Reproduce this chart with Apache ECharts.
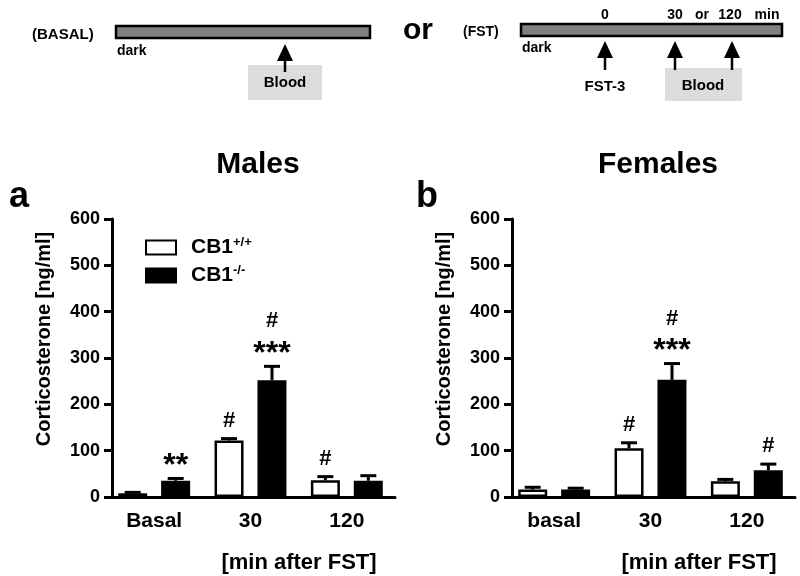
<!DOCTYPE html>
<html>
<head>
<meta charset="utf-8">
<script src="https://cdn.jsdelivr.net/npm/echarts@6/dist/echarts.min.js"></script>
<style>
  html, body { margin: 0; padding: 0; background: #fff; }
  #chart { width: 800px; height: 576px; }
</style>
</head>
<body>
<div id="chart"></div>
<script>
// 数据
var categoriesA = ['Basal', '30', '120'];
var categoriesB = ['basal', '30', '120'];
var yTicks = [0, 100, 200, 300, 400, 500, 600];

var maleWt = [8, 122, 36];
var maleWtErr = [2, 4, 8];
var maleKo = [35, 252, 35];
var maleKoErr = [5, 30, 11];
var femaleWt = [16, 105, 34];
var femaleWtErr = [5, 12, 4];
var femaleKo = [16, 253, 58];
var femaleKoErr = [3, 35, 13];

// 显著性标记
var maleWtHash = ['', '#', '#'];
var maleWtStars = ['', '', ''];
var maleKoHash = ['', '#', ''];
var maleKoStars = ['**', '***', ''];
var femaleWtHash = ['', '#', ''];
var femaleWtStars = ['', '', ''];
var femaleKoHash = ['', '#', '#'];
var femaleKoStars = ['', '***', ''];

var FONT = '"Liberation Sans", Arial, sans-serif';
var myChart = echarts.init(document.getElementById('chart'));

function barSeries(name, idx, vals, fill) {
  return {
    name: name, type: 'bar', xAxisIndex: idx, yAxisIndex: idx,
    data: vals, barWidth: 29, barGap: '48%',
    itemStyle: { color: fill, borderColor: '#000', borderWidth: 2.5 }
  };
}

// 误差线 + 显著性标记
function errSeries(idx, shift, vals, errs, hash, stars) {
  return {
    type: 'custom', xAxisIndex: idx, yAxisIndex: idx, z: 5,
    data: vals.map(function (v, i) { return [i, v, errs[i]]; }),
    encode: { x: 0, y: 1 },
    renderItem: function (params, api) {
      var i = params.dataIndex;
      var base = api.coord([i, api.value(1)]);
      var top = api.coord([i, api.value(1) + api.value(2)]);
      var x = base[0] + shift;
      var kids = [
        { type: 'line', shape: { x1: x, y1: base[1], x2: x, y2: top[1] }, style: { stroke: '#000', lineWidth: 3 } },
        { type: 'line', shape: { x1: x - 8, y1: top[1], x2: x + 8, y2: top[1] }, style: { stroke: '#000', lineWidth: 3 } }
      ];
      var y = top[1];
      if (stars[i]) {
        kids.push({ type: 'text', x: x, y: y - 12, style: { text: stars[i], font: 'bold 32px ' + FONT, fill: '#000', align: 'center', verticalAlign: 'middle' } });
        y -= 27;
      }
      if (hash[i]) {
        kids.push({ type: 'text', x: x, y: y - 18, style: { text: hash[i], font: 'bold 22px ' + FONT, fill: '#000', align: 'center', verticalAlign: 'middle' } });
      }
      return { type: 'group', children: kids };
    }
  };
}

function xAxisOf(idx, cats) {
  return {
    type: 'category', gridIndex: idx, data: cats,
    axisLine: { lineStyle: { color: '#000', width: 3 } },
    axisTick: { show: false },
    axisLabel: { color: '#000', fontFamily: FONT, fontWeight: 'bold', fontSize: 21, margin: 14 }
  };
}

function yAxisOf(idx) {
  return {
    type: 'value', gridIndex: idx, offset: -6,
    min: yTicks[0], max: yTicks[yTicks.length - 1], interval: yTicks[1] - yTicks[0],
    splitLine: { show: false },
    axisLine: { show: true, lineStyle: { color: '#000', width: 3 } },
    axisTick: { show: true, length: 8, lineStyle: { color: '#000', width: 3 } },
    axisLabel: { color: '#000', fontFamily: FONT, fontWeight: 'bold', fontSize: 18, margin: 12 }
  };
}

function arrow(x, tip, end) {
  return [
    { type: 'line', shape: { x1: x, y1: tip + 10, x2: x, y2: end }, style: { stroke: '#000', lineWidth: 2.5 } },
    { type: 'polygon', shape: { points: [[x, tip], [x - 8, tip + 17], [x + 8, tip + 17]] }, style: { fill: '#000' } }
  ];
}

function txt(s, x, y, size, align) {
  return { type: 'text', x: x, y: y, style: { text: s, font: 'bold ' + size + 'px ' + FONT, fill: '#000', align: align || 'center', verticalAlign: 'middle' } };
}

// 顶部实验流程示意
var diagram = [
  txt('(BASAL)', 32, 35, 15, 'left'),
  { type: 'rect', shape: { x: 116, y: 26, width: 254, height: 12 }, style: { fill: '#808080', stroke: '#000', lineWidth: 2.5 } },
  txt('dark', 117, 51, 14, 'left'),
  { type: 'rect', shape: { x: 248, y: 65, width: 74, height: 35 }, style: { fill: '#dcdcdc' } },
  txt('Blood', 285, 83, 15)
].concat(arrow(285, 44, 72)).concat([
  txt('or', 418, 31, 30),
  txt('(FST)', 463, 32, 14, 'left'),
  { type: 'rect', shape: { x: 521, y: 24, width: 261, height: 12 }, style: { fill: '#808080', stroke: '#000', lineWidth: 2.5 } },
  txt('dark', 522, 48, 14, 'left'),
  txt('0', 605, 15, 14),
  txt('30', 675, 15, 14),
  txt('or', 702, 15, 14),
  txt('120', 730, 15, 14),
  txt('min', 767, 15, 14),
  { type: 'rect', shape: { x: 665, y: 68, width: 77, height: 33 }, style: { fill: '#dcdcdc' } },
  txt('FST-3', 605, 87, 15),
  txt('Blood', 703, 86, 15)
]).concat(arrow(605, 41, 70)).concat(arrow(675, 41, 70)).concat(arrow(732, 41, 70)).concat([
  // 纵轴名称
  { type: 'text', x: 44, y: 339, rotation: Math.PI / 2, style: { text: 'Corticosterone [ng/ml]', font: 'bold 20px ' + FONT, fill: '#000', align: 'center', verticalAlign: 'middle' } },
  { type: 'text', x: 444, y: 339, rotation: Math.PI / 2, style: { text: 'Corticosterone [ng/ml]', font: 'bold 20px ' + FONT, fill: '#000', align: 'center', verticalAlign: 'middle' } },
  txt('[min after FST]', 299, 563, 22),
  txt('[min after FST]', 699, 563, 22),
  txt('Males', 258, 165, 30),
  txt('Females', 658, 165, 30),
  txt('a', 19, 197, 36),
  txt('b', 427, 197, 36)
]);

var option = {
  animation: false,
  backgroundColor: '#fff',
  grid: [
    { left: 106, top: 219, width: 289, bottom: 79 },
    { left: 506, top: 219, width: 289, bottom: 79 }
  ],
  legend: {
    data: ['wt', 'ko'], orient: 'vertical', left: 140, top: 231,
    itemWidth: 30, itemHeight: 14, itemGap: 6, icon: 'rect',
    selectedMode: false,
    formatter: function (n) {
      return n === 'wt' ? '{b|CB1}{s|+/+}' : '{b|CB1}{s|-/-}';
    },
    textStyle: {
      color: '#000',
      rich: {
        b: { fontFamily: FONT, fontWeight: 'bold', fontSize: 21, padding: [0, 0, 0, 10] },
        s: { fontFamily: FONT, fontWeight: 'bold', fontSize: 13, padding: [0, 0, 10, 0] }
      }
    }
  },
  xAxis: [xAxisOf(0, categoriesA), xAxisOf(1, categoriesB)],
  yAxis: [yAxisOf(0), yAxisOf(1)],
  series: [
    barSeries('wt', 0, maleWt, '#fff'),
    barSeries('ko', 0, maleKo, '#000'),
    barSeries('wt', 1, femaleWt, '#fff'),
    barSeries('ko', 1, femaleKo, '#000'),
    errSeries(0, -21.5, maleWt, maleWtErr, maleWtHash, maleWtStars),
    errSeries(0, 21.5, maleKo, maleKoErr, maleKoHash, maleKoStars),
    errSeries(1, -21.5, femaleWt, femaleWtErr, femaleWtHash, femaleWtStars),
    errSeries(1, 21.5, femaleKo, femaleKoErr, femaleKoHash, femaleKoStars)
  ],
  graphic: diagram
};
myChart.setOption(option);
</script>
</body>
</html>
